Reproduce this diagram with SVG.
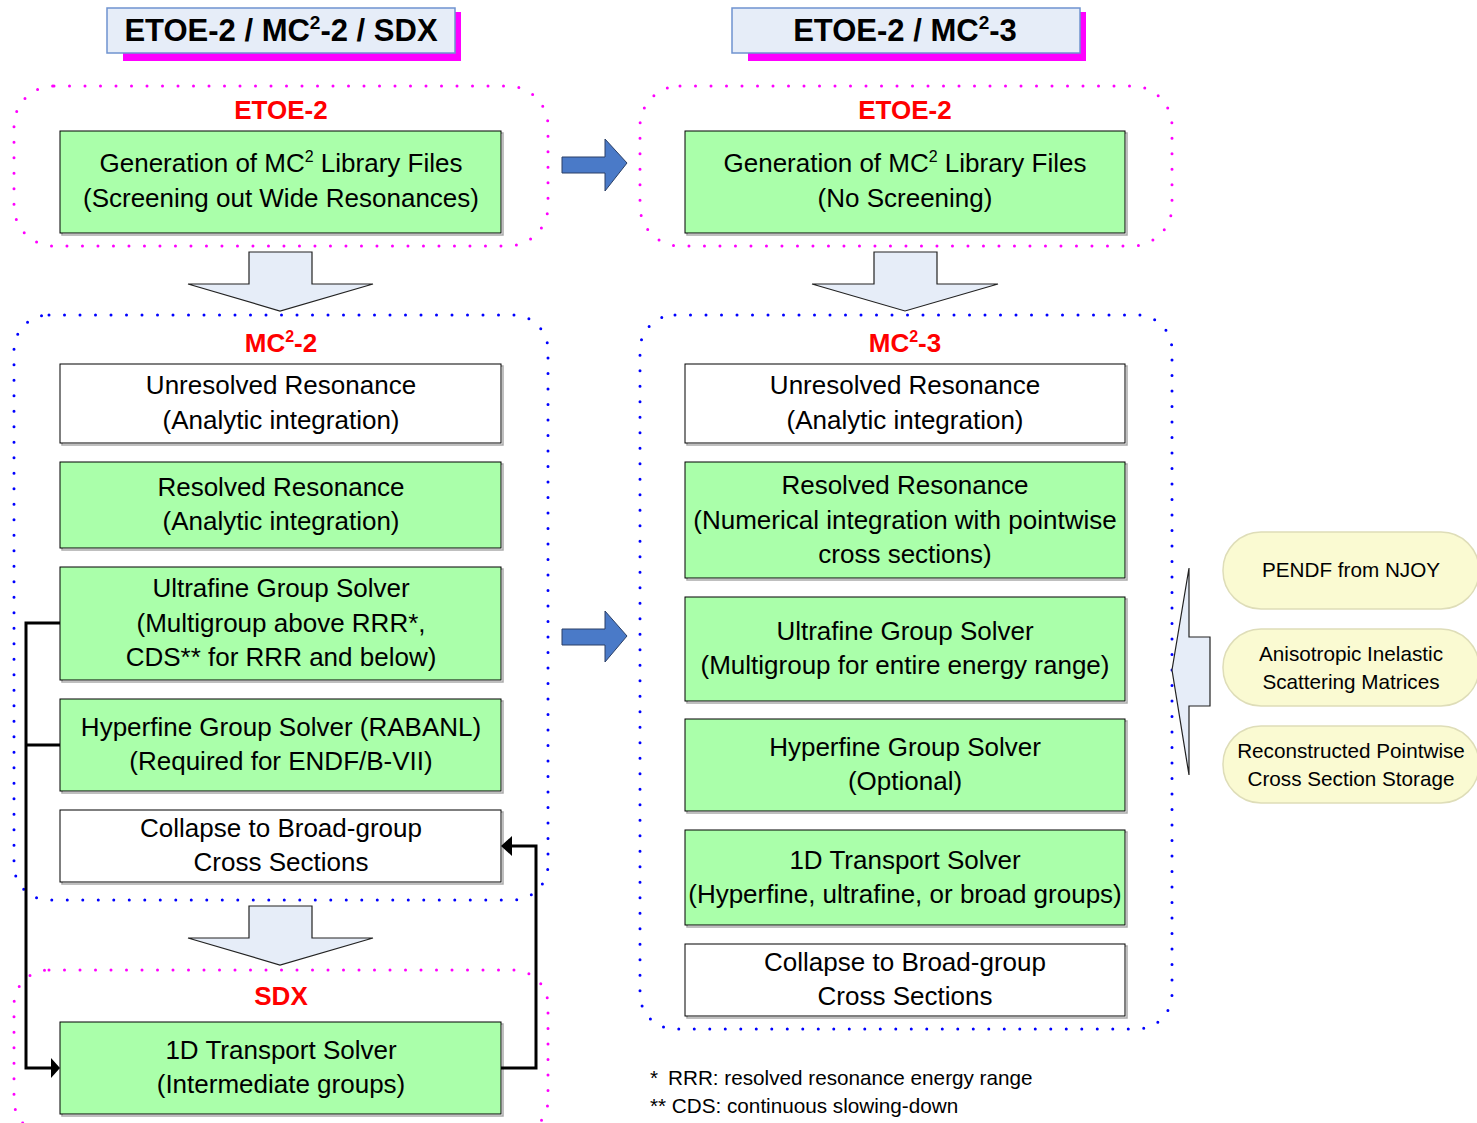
<svg xmlns="http://www.w3.org/2000/svg" width="1477" height="1123" viewBox="0 0 1477 1123">
<style>
text{font-family:"Liberation Sans",Arial,sans-serif;fill:#000;text-anchor:middle}
.t{font-size:26px}
.red{font-size:26px;font-weight:bold;fill:#ff0000}
.ttl{font-size:31px;font-weight:bold}
.pt{font-size:20.7px}
.fn{font-size:20.7px;text-anchor:start}
.g{fill:#aaffaa;stroke:#000;stroke-width:1}
.w{fill:#fff;stroke:#000;stroke-width:1}
.sh{fill:none;stroke:#aaa;stroke-width:1.5}
.dp{fill:none;stroke:#ff00ff;stroke-width:3;stroke-linecap:round;stroke-dasharray:0 15.5}
.db{fill:none;stroke:#0000ff;stroke-width:3;stroke-linecap:round;stroke-dasharray:0 15.5}
.ba{fill:#4a7ac8;stroke:#2a3f66;stroke-width:1}
.la{fill:#e6edf8;stroke:#222;stroke-width:1.2}
.pill{fill:#fafad2;stroke:#deddb8;stroke-width:1.5}
.con{fill:none;stroke:#000;stroke-width:3}
</style>

<!-- containers -->
<g id="containers">
<rect class="dp" x="14" y="86" width="534" height="160" rx="40"/>
<rect class="dp" x="640" y="86" width="532" height="160" rx="40"/>
<rect class="db" x="14" y="315" width="534" height="585" rx="35"/>
<rect class="dp" x="14" y="970" width="534" height="165" rx="35"/>
<rect class="db" x="640" y="315" width="532" height="714" rx="35"/>
</g>

<!-- titles -->
<g id="title-left">
<rect x="123" y="12" width="338" height="49" fill="#ff00ff"/>
<rect x="107" y="8" width="348" height="45" fill="#e6edf8" stroke="#6f93cf" stroke-width="1.5"/>
<text class="ttl" x="281" y="41">ETOE-2 / MC<tspan font-size="19" dy="-12">2</tspan><tspan dy="12">-2 / SDX</tspan></text>
</g>
<g id="title-right">
<rect x="748" y="12" width="338" height="49" fill="#ff00ff"/>
<rect x="732" y="8" width="348" height="45" fill="#e6edf8" stroke="#6f93cf" stroke-width="1.5"/>
<text class="ttl" x="905" y="41">ETOE-2 / MC<tspan font-size="19" dy="-12">2</tspan><tspan dy="12">-3</tspan></text>
</g>

<!-- group labels -->
<text class="red" x="281" y="119">ETOE-2</text>
<text class="red" x="905" y="119">ETOE-2</text>
<text class="red" x="281" y="352">MC<tspan font-size="16" dy="-10">2</tspan><tspan dy="10">-2</tspan></text>
<text class="red" x="905" y="352">MC<tspan font-size="16" dy="-10">2</tspan><tspan dy="10">-3</tspan></text>
<text class="red" x="281" y="1005">SDX</text>

<!-- left column -->
<g id="l-gen">
<rect class="sh" x="62" y="133" width="441" height="102"/>
<rect class="g" x="60" y="131" width="441" height="102"/>
<text class="t" x="281" y="172">Generation of MC<tspan font-size="16" dy="-10">2</tspan><tspan dy="10"> Library Files</tspan></text>
<text class="t" x="281" y="207">(Screening out Wide Resonances)</text>
</g>
<g id="l-unres">
<rect class="sh" x="62" y="366" width="441" height="79"/>
<rect class="w" x="60" y="364" width="441" height="79"/>
<text class="t" x="281" y="394">Unresolved Resonance</text>
<text class="t" x="281" y="429">(Analytic integration)</text>
</g>
<g id="l-res">
<rect class="sh" x="62" y="464" width="441" height="86"/>
<rect class="g" x="60" y="462" width="441" height="86"/>
<text class="t" x="281" y="496">Resolved Resonance</text>
<text class="t" x="281" y="530">(Analytic integration)</text>
</g>
<g id="l-ufg">
<rect class="sh" x="62" y="569" width="441" height="113"/>
<rect class="g" x="60" y="567" width="441" height="113"/>
<text class="t" x="281" y="597">Ultrafine Group Solver</text>
<text class="t" x="281" y="632">(Multigroup above RRR*,</text>
<text class="t" x="281" y="666">CDS** for RRR and below)</text>
</g>
<g id="l-hfg">
<rect class="sh" x="62" y="701" width="441" height="92"/>
<rect class="g" x="60" y="699" width="441" height="92"/>
<text class="t" x="281" y="736">Hyperfine Group Solver (RABANL)</text>
<text class="t" x="281" y="770">(Required for ENDF/B-VII)</text>
</g>
<g id="l-col">
<rect class="sh" x="62" y="812" width="441" height="72"/>
<rect class="w" x="60" y="810" width="441" height="72"/>
<text class="t" x="281" y="837">Collapse to Broad-group</text>
<text class="t" x="281" y="871">Cross Sections</text>
</g>
<g id="l-1d">
<rect class="sh" x="62" y="1024" width="441" height="92"/>
<rect class="g" x="60" y="1022" width="441" height="92"/>
<text class="t" x="281" y="1059">1D Transport Solver</text>
<text class="t" x="281" y="1093">(Intermediate groups)</text>
</g>

<!-- right column -->
<g id="r-gen">
<rect class="sh" x="687" y="133" width="440" height="102"/>
<rect class="g" x="685" y="131" width="440" height="102"/>
<text class="t" x="905" y="172">Generation of MC<tspan font-size="16" dy="-10">2</tspan><tspan dy="10"> Library Files</tspan></text>
<text class="t" x="905" y="207">(No Screening)</text>
</g>
<g id="r-unres">
<rect class="sh" x="687" y="366" width="440" height="79"/>
<rect class="w" x="685" y="364" width="440" height="79"/>
<text class="t" x="905" y="394">Unresolved Resonance</text>
<text class="t" x="905" y="429">(Analytic integration)</text>
</g>
<g id="r-res">
<rect class="sh" x="687" y="464" width="440" height="116"/>
<rect class="g" x="685" y="462" width="440" height="116"/>
<text class="t" x="905" y="494">Resolved Resonance</text>
<text class="t" x="905" y="529">(Numerical integration with pointwise</text>
<text class="t" x="905" y="563">cross sections)</text>
</g>
<g id="r-ufg">
<rect class="sh" x="687" y="599" width="440" height="104"/>
<rect class="g" x="685" y="597" width="440" height="104"/>
<text class="t" x="905" y="640">Ultrafine Group Solver</text>
<text class="t" x="905" y="674">(Multigroup for entire energy range)</text>
</g>
<g id="r-hfg">
<rect class="sh" x="687" y="721" width="440" height="92"/>
<rect class="g" x="685" y="719" width="440" height="92"/>
<text class="t" x="905" y="756">Hyperfine Group Solver</text>
<text class="t" x="905" y="790">(Optional)</text>
</g>
<g id="r-1d">
<rect class="sh" x="687" y="832" width="440" height="95"/>
<rect class="g" x="685" y="830" width="440" height="95"/>
<text class="t" x="905" y="869">1D Transport Solver</text>
<text class="t" x="905" y="903">(Hyperfine, ultrafine, or broad groups)</text>
</g>
<g id="r-col">
<rect class="sh" x="687" y="946" width="440" height="72"/>
<rect class="w" x="685" y="944" width="440" height="72"/>
<text class="t" x="905" y="971">Collapse to Broad-group</text>
<text class="t" x="905" y="1005">Cross Sections</text>
</g>

<!-- data sources -->
<g id="p-pendf">
<rect class="pill" x="1223" y="532" width="256" height="77" rx="38"/>
<text class="pt" x="1351" y="577">PENDF from NJOY</text>
</g>
<g id="p-aniso">
<rect class="pill" x="1223" y="629" width="256" height="77" rx="38"/>
<text class="pt" x="1351" y="661">Anisotropic Inelastic</text>
<text class="pt" x="1351" y="689">Scattering Matrices</text>
</g>
<g id="p-recon">
<rect class="pill" x="1223" y="726" width="256" height="77" rx="38"/>
<text class="pt" x="1351" y="758">Reconstructed Pointwise</text>
<text class="pt" x="1351" y="786">Cross Section Storage</text>
</g>

<!-- connectors / block arrows -->
<g id="connectors">
<polygon class="ba" points="562,157 605,157 605,139 627,163 605,191 605,173 562,173"/>
<polygon class="ba" points="562,629 605,629 605,611 627,636 605,662 605,645 562,645"/>
<polygon class="la" points="249,252 312,252 312,284 373,284 280,311 188,284 249,284"/>
<polygon class="la" points="874,252 937,252 937,284 998,284 905,311 812,284 874,284"/>
<polygon class="la" points="249,906 312,906 312,938 373,938 280,965 188,938 249,938"/>
<polygon class="la" points="1210,637 1210,706 1189,706 1189,775 1172,670 1189,568 1189,637"/>
<path class="con" d="M60,623 H26 V1068 H52"/>
<path class="con" d="M60,745 H26"/>
<polygon points="51,1058 60,1068 51,1078" fill="#000"/>
<path class="con" d="M501,1068 H536 V846 H511"/>
<polygon points="512,836 501,846 512,856" fill="#000"/>
</g>

<text class="fn" x="650" y="1085">*<tspan x="668">RRR: resolved resonance energy range</tspan></text>
<text class="fn" x="650" y="1113">** CDS: continuous slowing-down</text>
</svg>
